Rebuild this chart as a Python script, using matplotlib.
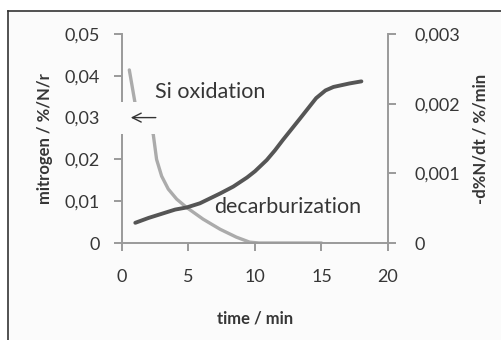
import matplotlib
matplotlib.use("Agg")
import matplotlib.pyplot as plt
from matplotlib.patches import Rectangle
from matplotlib.lines import Line2D

# ---- data ----
si_time = [0.55, 0.98, 1.5, 2.0, 2.35, 2.6, 2.98, 3.48, 4.11, 4.86, 6.1, 7.37, 8.6, 9.6, 10.3, 11.0, 12.0, 13.0, 14.0, 15.0]
si_nitrogen = [0.0414, 0.0335, 0.031, 0.0285, 0.026, 0.020, 0.016, 0.0129, 0.0105, 0.0085, 0.0057, 0.0033, 0.0014, 0.0002, 0.0, 0.0, 0.0, 0.0, 0.0, 0.0]

dc_time = [1.0, 2.0, 3.1, 4.0, 4.86, 5.86, 7.37, 8.37, 9.4, 10.0, 10.88, 11.5, 12.1, 13.4, 14.6, 15.3, 15.9, 17.1, 18.0]
dc_rate = [0.00029, 0.00036, 0.000426, 0.00048, 0.00051, 0.00057, 0.00071, 0.00081, 0.00094, 0.00103, 0.00119, 0.00133, 0.00148, 0.00179, 0.00208, 0.00219, 0.00224, 0.00229, 0.00232]

x_ticks = [0, 5, 10, 15, 20]
x_labels = ["0", "5", "10", "15", "20"]
left_ticks = [0, 0.01, 0.02, 0.03, 0.04, 0.05]
left_labels = ["0", "0,01", "0,02", "0,03", "0,04", "0,05"]
right_ticks = [0, 0.001, 0.002, 0.003]
right_labels = ["0", "0,001", "0,002", "0,003"]

plt.rcParams['font.family'] = ['Lato', 'DejaVu Sans']

fig = plt.figure(figsize=(5.02, 3.40), dpi=100)
fig.patch.set_facecolor('white')

# outer frame (left and top border)
fig.add_artist(Line2D([8/502, 8/502], [0, 1 - 11/340], color='#333333', lw=1.2))
fig.add_artist(Line2D([8/502, 1], [1 - 11/340, 1 - 11/340], color='#333333', lw=1.2))
fig.add_artist(Rectangle((9/502, 0), 1, 1 - 12/340, transform=fig.transFigure,
                         facecolor='#fbfbfb', edgecolor='none', zorder=-1))

ax = fig.add_axes([122/502, 1 - 243/340, 266/502, 209/340])
ax.set_facecolor('none')
ax2 = ax.twinx()

spine_c = '#9a9a9a'
txt_c = '#363636'

ax.plot(si_time, si_nitrogen, color='#ababab', lw=2.4, solid_capstyle='round',
        solid_joinstyle='round', zorder=2)
ax2.plot(dc_time, dc_rate, color='#555555', lw=2.8, solid_capstyle='round',
         solid_joinstyle='round', zorder=2)

ax.set_xlim(0, 20)
ax.set_ylim(0, 0.05)
ax2.set_ylim(0, 0.003)

for a in (ax, ax2):
    a.spines['top'].set_visible(False)
    for s in ('left', 'right', 'bottom'):
        a.spines[s].set_color(spine_c)
        a.spines[s].set_linewidth(1.4)
ax.spines['right'].set_visible(False)
ax2.spines['left'].set_visible(False)
ax2.spines['bottom'].set_visible(False)

ax.set_xticks(x_ticks)
ax.set_xticklabels(x_labels)
ax.set_yticks(left_ticks)
ax.set_yticklabels(left_labels)
ax2.set_yticks(right_ticks)
ax2.set_yticklabels(right_labels)

ax.tick_params(axis='both', direction='out', length=6, width=1.4, color=spine_c,
               labelsize=13, labelcolor=txt_c)
ax.tick_params(axis='x', pad=13)
ax.tick_params(axis='y', pad=10)
ax2.tick_params(axis='y', direction='out', length=6, width=1.4, color=spine_c,
                labelsize=13, labelcolor=txt_c, pad=13)

ax.set_xlabel('time / min', fontsize=12, fontweight='bold', color=txt_c, labelpad=18)
ax.set_ylabel('mitrogen / %/N/r', fontsize=12, fontweight='bold', color=txt_c, labelpad=8)
ax2.set_ylabel('-d%N/dt / %/min', fontsize=12, fontweight='bold', color=txt_c, labelpad=9)

# white gap behind the arrow
ax2.add_patch(Rectangle((-0.7, 0.026 * 0.06), 3.5, 0.0077 * 0.06, facecolor='#fbfbfb',
                        edgecolor='none', clip_on=False, zorder=5))
ax2.annotate('', xy=(0.45, 0.03 * 0.06), xytext=(2.75, 0.03 * 0.06),
             arrowprops=dict(arrowstyle='->', color='#333333', lw=1.0,
                             mutation_scale=16), zorder=6)

ax2.text(2.5, 0.0362 * 0.06, 'Si oxidation', fontsize=15.5, color=txt_c, va='center', ha='left', zorder=7)
ax2.text(6.9, 0.0086 * 0.06, 'decarburization', fontsize=15.5, color=txt_c, va='center', ha='left', zorder=7)

fig.savefig('out.png', dpi=100, facecolor=fig.get_facecolor())
